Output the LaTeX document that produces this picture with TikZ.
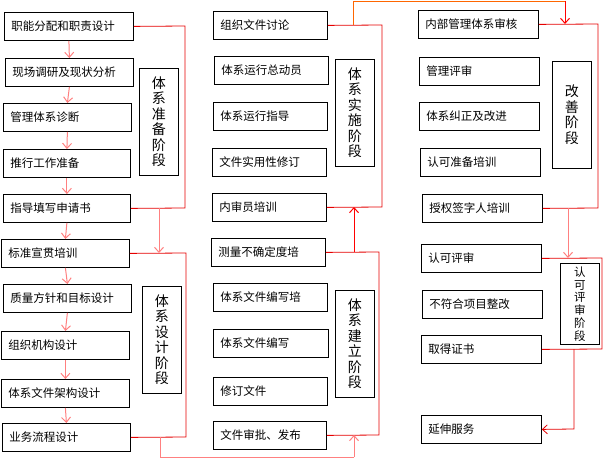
\documentclass[tikz,border=0pt]{standalone}
\usepackage{fontspec}
\setmainfont{Noto Sans CJK SC}
\usetikzlibrary{arrows.meta}
\tikzset{
 box/.style={draw,thick,anchor=north west,minimum height=28pt,inner xsep=7pt,align=left,font=\fontsize{11.5}{13}\selectfont},
 stage/.style={draw,thick,anchor=north west,minimum width=39pt,minimum height=107pt,align=center,font=\fontsize{14}{15.5}\selectfont},
 br/.style={draw=red!90!black,line width=0.8pt},
 ar/.style={draw=red!50,line width=1pt,-{Straight Barb[length=5pt,width=9pt]}},
 ln/.style={draw=red!50,line width=1pt}
}
\newcommand{\bx}[5]{\node[box,minimum width=#4pt,text width=#4pt-14pt] (#1) at (#2,#3) {#5};}
\begin{document}
\begin{tikzpicture}[x=1pt,y=-1pt]
\useasboundingbox (0,0) rectangle (603,460);
% left
\bx{A1}{4}{12}{129}{职能分配和职责设计}
\bx{A2}{5}{58}{128}{现场调研及现状分析}
\bx{A3}{3}{103}{128}{管理体系诊断}
\bx{A4}{3}{149}{127}{推行工作准备}
\bx{A5}{3}{194}{127}{指导填写申请书}
\node[stage] (S1) at (139,68) {体\\系\\准\\备\\阶\\段};
\bx{A6}{1}{239}{128}{标准宣贯培训}
\bx{A7}{3}{284}{128}{质量方针和目标设计}
\bx{A8}{1}{331}{128}{组织机构设计}
\bx{A9}{1}{379}{128}{体系文件架构设计}
\bx{A10}{2}{423}{128}{业务流程设计}
\node[stage] (S2) at (142,286) {体\\系\\设\\计\\阶\\段};
% middle
\bx{B1}{213}{11}{114}{组织文件讨论}
\bx{B2}{214}{56}{114}{体系运行总动员}
\bx{B3}{213}{102}{114}{体系运行指导}
\bx{B4}{212}{148}{114}{文件实用性修订}
\bx{B5}{212}{193}{114}{内审员培训}
\node[stage] (S3) at (335,59) {体\\系\\实\\施\\阶\\段};
\bx{B6}{211}{238}{114}{测量不确定度培}
\bx{B7}{213}{283}{114}{体系文件编写培}
\bx{B8}{213}{329}{115}{体系文件编写}
\bx{B9}{213}{377}{114}{修订文件}
\bx{B10}{213}{421}{113}{文件审批、发布}
\node[stage] (S4) at (335,290) {体\\系\\建\\立\\阶\\段};
% right
\bx{C1}{418}{10}{120}{内部管理体系审核}
\bx{C2}{419}{57}{120}{管理评审}
\bx{C3}{419}{102}{120}{体系纠正及改进}
\bx{C4}{420}{148}{120}{认可准备培训}
\bx{C5}{422}{194}{120}{授权签字人培训}
\node[stage] (S5) at (552,61) {改\\善\\阶\\段};
\bx{D1}{421}{244}{120}{认可评审}
\bx{D2}{422}{290}{120}{不符合项目整改}
\bx{D3}{421}{335}{120}{取得证书}
\bx{D4}{421}{415}{120}{延伸服务}
\node[stage,minimum height=77pt,font=\fontsize{11.5}{12.8}\selectfont] (S6) at (560,263) {认\\可\\评\\审\\阶\\段};
% arrows between boxes
\foreach \a/\b in {A1/A2,A2/A3,A3/A4,A4/A5,A5/A6,A6/A7,A7/A8,A8/A9,A9/A10}
  \draw[ar] (\a.south) -- (\b.north);
% brackets
\draw[br] (A1.east) -- (185,26) -- (185,208) -- (A5.east);
\draw[br] (A6.east) -- (186,253) -- (186,437) -- (A10.east);
\draw[br] (B1.east) -- (382,25) -- (382,207) -- (B5.east);
\draw[br] (B6.east) -- (379,252) -- (379,435) -- (B10.east);
\draw[br] (C1.east) -- (598,24) -- (598,208) -- (C5.east);
\draw[br] (D1.east) -- (602,258) -- (602,349) -- (D3.east);
% stage links
\coordinate (p1) at (159,208); \coordinate (q1) at (159,253);
\draw[ar] (p1) -- (q1);
\coordinate (p2) at (160,437); \coordinate (q2) at (354,435);
\draw[ln] (p2) -- (160,457) -- (354,457);
\draw[ar] (354,457) -- (q2);
\coordinate (p3) at (354,252); \coordinate (q3) at (354,207);
\draw[ar,draw=red] (p3) -- (q3);
\coordinate (p4) at (353,25); \coordinate (q4) at (565,24);
\draw[draw=orange!80!red,line width=0.8pt] (p4) -- (353,1) -- (565,1);
\draw[ar,draw=red] (565,1) -- (q4);
\coordinate (p5) at (568,208); \coordinate (q5) at (568,258);
\draw[ar] (p5) -- (q5);
\coordinate (p6) at (574,349);
\draw[br,-{Straight Barb[length=5pt,width=9pt]}] (p6) -- (574,429) -- (D4.east);
\end{tikzpicture}
\end{document}
